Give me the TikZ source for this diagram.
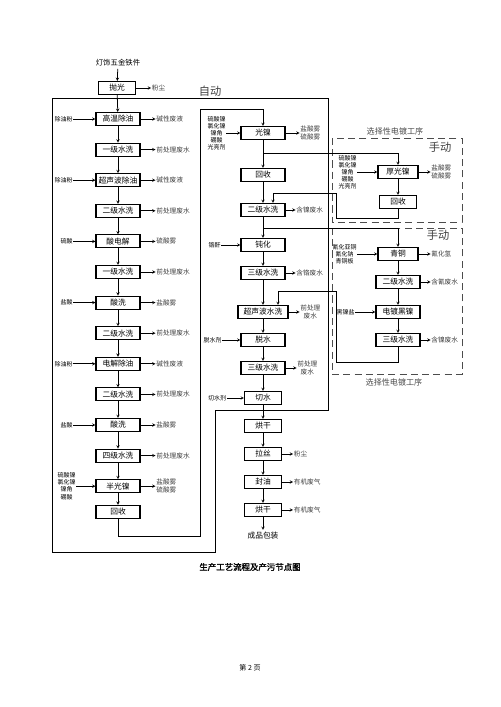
\documentclass[tikz,border=0pt]{standalone}
\usepackage{fontspec}
\setmainfont{Noto Sans CJK SC}[AutoFakeBold=2]
\usetikzlibrary{positioning}

\tikzstyle{arrow} = [line width=1.1pt,->,>=stealth]
\tikzstyle{wire} = [line width=1.1pt]
\tikzstyle{box} = [draw, line width=1.5pt, minimum width=2.2cm, minimum height=0.65cm, inner sep=1pt, font=\fontsize{11}{13}\selectfont]
\tikzstyle{inl} = [align=center, inner sep=1pt, font=\fontsize{8.5}{10}\selectfont]
\tikzstyle{outl} = [align=center, inner sep=1pt, text=black!75, font=\fontsize{9.5}{11}\selectfont]
\tikzstyle{manual} = [dash pattern=on 10pt off 6pt, line width=1.2pt, black!70]
\tikzstyle{modetext} = [text=black!75, font=\fontsize{16}{18}\selectfont]
\tikzstyle{seltext} = [text=black!70, font=\fontsize{11.5}{13}\selectfont]

\begin{document}
\begin{tikzpicture}[x=0.05cm, y=-0.05cm, node distance=1.4cm]
\useasboundingbox (0,0) rectangle (500,707);

\node (src) at (118,63) [font=\fontsize{10.5}{12}\selectfont] {灯饰五金铁件};
\node (a0) at (117,88) [box, minimum width=1.85cm] {抛光};
\node (a1) at (118,119) [box] {高温除油};
\begin{scope}[node distance=1.53cm]
\node (a2) [box, below of=a1] {一级水洗};
\node (a3) [box, below of=a2] {超声波除油};
\node (a4) [box, below of=a3] {二级水洗};
\node (a5) [box, below of=a4] {酸电解};
\node (a6) [box, below of=a5] {一级水洗};
\node (a7) [box, below of=a6] {酸洗};
\node (a8) [box, below of=a7] {二级水洗};
\node (a9) [box, below of=a8] {电解除油};
\node (a10) [box, below of=a9] {二级水洗};
\node (a11) [box, below of=a10] {酸洗};
\node (a12) [box, below of=a11] {四级水洗};
\node (a13) [box, below of=a12] {半光镍};
\node (a14) [box, below of=a13, yshift=0.25cm] {回收};
\end{scope}

\node (a1in) [inl, left=1.1cm of a1] {除油粉};
\node (a3in) [inl, left=1.1cm of a3] {除油粉};
\node (a5in) [inl, left=1.1cm of a5] {硫酸};
\node (a7in) [inl, left=1.1cm of a7] {盐酸};
\node (a9in) [inl, left=1.1cm of a9] {除油粉};
\node (a11in) [inl, left=1.1cm of a11] {盐酸};
\node (a13in) [inl, left=0.95cm of a13] {硫酸镍\\氯化镍\\镍角\\硼酸};

\node (a0out) [outl, right=0.75cm of a0] {粉尘};
\node (a1out) [outl, right=0.75cm of a1] {碱性废液};
\node (a2out) [outl, right=0.75cm of a2] {前处理废水};
\node (a3out) [outl, right=0.75cm of a3] {碱性废液};
\node (a4out) [outl, right=0.75cm of a4] {前处理废水};
\node (a5out) [outl, right=0.75cm of a5] {硫酸雾};
\node (a6out) [outl, right=0.75cm of a6] {前处理废水};
\node (a7out) [outl, right=0.75cm of a7] {盐酸雾};
\node (a8out) [outl, right=0.75cm of a8] {前处理废水};
\node (a9out) [outl, right=0.75cm of a9] {碱性废液};
\node (a10out) [outl, right=0.75cm of a10] {前处理废水};
\node (a11out) [outl, right=0.75cm of a11] {盐酸雾};
\node (a12out) [outl, right=0.75cm of a12] {前处理废水};
\node (a13out) [outl, right=0.75cm of a13] {盐酸雾\\硫酸雾};

\node (b1) at (263,133) [box] {光镍};
\node (b2) [box, below of=b1, yshift=-0.7cm] {回收};
\node (b3) [box, below of=b2, yshift=-0.35cm] {二级水洗};
\node (b4) [box, below of=b3, yshift=-0.35cm] {钝化};
\node (b5) [box, below of=b4] {三级水洗};
\node (b6) [box, below of=b5, yshift=-0.55cm, minimum width=2.5cm] {超声波水洗};
\node (b7) [box, below of=b6] {脱水};
\node (b8) [box, below of=b7] {三级水洗};
\node (b9) [box, below of=b8, yshift=-0.1cm, minimum width=1.85cm] {切水};
\node (b10) [box, below of=b9, minimum width=1.85cm] {烘干};
\node (b11) [box, below of=b10, minimum width=1.85cm] {拉丝};
\node (b12) [box, below of=b11, minimum width=1.85cm] {封油};
\node (b13) [box, below of=b12, minimum width=1.85cm] {烘干};
\node (pack) [below of=b13, yshift=0.1cm, font=\fontsize{11}{13}\selectfont] {成品包装};

\node (b1in) [inl, left=0.7cm of b1] {硫酸镍\\氯化镍\\镍角\\硼酸\\光亮剂};
\node (b4in) [inl, left=0.95cm of b4] {铬酐};
\node (b7in) [inl, left=0.9cm of b7] {脱水剂};
\node (b9in) [inl, left=0.85cm of b9] {切水剂};

\node (b1out) [outl, right=0.7cm of b1] {盐酸雾\\硫酸雾};
\node (b3out) [outl, right=0.5cm of b3] {含镍废水};
\node (b5out) [outl, right=0.5cm of b5] {含铬废水};
\node (b6out) [outl, right=0.55cm of b6] {前处理\\废水};
\node (b8out) [outl, right=0.55cm of b8] {前处理\\废水};
\node (b11out) [outl, right=0.55cm of b11] {粉尘};
\node (b12out) [outl, right=0.55cm of b12] {有机废气};
\node (b13out) [outl, right=0.55cm of b13] {有机废气};

\node (c1) at (398,172) [box, minimum width=2cm] {厚光镍};
\node (c2) [box, below of=c1, yshift=-0.1cm, minimum width=1.85cm] {回收};
\node (c3) at (398,254) [box, minimum width=2cm] {青铜};
\node (c4) [box, below of=c3] {二级水洗};
\node (c5) [box, below of=c4, yshift=-0.1cm] {电镀黑镍};
\node (c6) [box, below of=c5] {三级水洗};

\node (c1in) [inl, left=1cm of c1] {硫酸镍\\氯化镍\\镍角\\硼酸\\光亮剂};
\node (c3in) [inl, left=1cm of c3] {氰化亚铜\\氰化钠\\青铜板};
\node (c5in) [inl, left=1cm of c5] {黑镍盐};

\node (c1out) [outl, right=0.6cm of c1] {盐酸雾\\硫酸雾};
\node (c3out) [outl, right=0.6cm of c3] {氰化氢};
\node (c4out) [outl, right=0.5cm of c4] {含氰废水};
\node (c6out) [outl, right=0.5cm of c6] {含镍废水};

\node (auto) at (210,91) [modetext] {自动};
\node (man1) at (440,147) [modetext] {手动};
\node (man2) at (438,235) [modetext] {手动};
\node (sel1) at (395,131) [seltext] {选择性电镀工序};
\node (sel2) at (394,382) [seltext] {选择性电镀工序};
\node (title) at (250,567) [font=\bfseries\fontsize{12}{14}\selectfont] {生产工艺流程及产污节点图};
\node (page) at (250,668) [font=\fontsize{10}{12}\selectfont] {第 2 页};

\draw [wire] (52,98) -- (328,98) -- (328,410) -- (215,410) -- (215,552) -- (52,552) -- cycle;
\draw [manual] (332,138) rectangle (462,222);
\draw [manual] (332,228) rectangle (462,374);

\draw [arrow] (src) -- (a0);
\draw [arrow] (a0) -- (a1);
\draw [arrow] (a1) -- (a2);
\draw [arrow] (a2) -- (a3);
\draw [arrow] (a3) -- (a4);
\draw [arrow] (a4) -- (a5);
\draw [arrow] (a5) -- (a6);
\draw [arrow] (a6) -- (a7);
\draw [arrow] (a7) -- (a8);
\draw [arrow] (a8) -- (a9);
\draw [arrow] (a9) -- (a10);
\draw [arrow] (a10) -- (a11);
\draw [arrow] (a11) -- (a12);
\draw [arrow] (a12) -- (a13);
\draw [arrow] (a13) -- (a14);

\draw [arrow] (a1in) -- (a1);
\draw [arrow] (a3in) -- (a3);
\draw [arrow] (a5in) -- (a5);
\draw [arrow] (a7in) -- (a7);
\draw [arrow] (a9in) -- (a9);
\draw [arrow] (a11in) -- (a11);
\draw [arrow] (a13in) -- (a13);

\draw [arrow] (a0) -- (a0out);
\draw [arrow] (a1) -- (a1out);
\draw [arrow] (a2) -- (a2out);
\draw [arrow] (a3) -- (a3out);
\draw [arrow] (a4) -- (a4out);
\draw [arrow] (a5) -- (a5out);
\draw [arrow] (a6) -- (a6out);
\draw [arrow] (a7) -- (a7out);
\draw [arrow] (a8) -- (a8out);
\draw [arrow] (a9) -- (a9out);
\draw [arrow] (a10) -- (a10out);
\draw [arrow] (a11) -- (a11out);
\draw [arrow] (a12) -- (a12out);
\draw [arrow] (a13) -- (a13out);

\coordinate (r1) at (200,536);
\coordinate (r2) at (200,109);
\draw [arrow] (a14) |- (r1) -- (r2) -| (b1);

\draw [arrow] (b1) -- (b2);
\draw [arrow] (b2) -- (b3);
\draw [arrow] (b3) -- (b4);
\draw [arrow] (b4) -- (b5);
\draw [arrow] (b5) -- (b6);
\draw [arrow] (b6) -- (b7);
\draw [arrow] (b7) -- (b8);
\draw [arrow] (b8) -- (b9);
\draw [arrow] (b9) -- (b10);
\draw [arrow] (b10) -- (b11);
\draw [arrow] (b11) -- (b12);
\draw [arrow] (b12) -- (b13);
\draw [arrow] (b13) -- (pack);

\draw [arrow] (b1in) -- (b1);
\draw [arrow] (b4in) -- (b4);
\draw [arrow] (b7in) -- (b7);
\draw [arrow] (b9in) -- (b9);

\draw [arrow] (b1) -- (b1out);
\draw [arrow] (b3) -- (b3out);
\draw [arrow] (b5) -- (b5out);
\draw [arrow] (b6) -- (b6out);
\draw [arrow] (b8) -- (b8out);
\draw [arrow] (b11) -- (b11out);
\draw [arrow] (b12) -- (b12out);
\draw [arrow] (b13) -- (b13out);

\coordinate (j1) at (263,153);
\coordinate (j2) at (263,228);
\draw [arrow] (j1) -| (c1);
\draw [arrow] (j2) -| (c3);

\draw [arrow] (c1) -- (c2);
\draw [arrow] (c3) -- (c4);
\draw [arrow] (c4) -- (c5);
\draw [arrow] (c5) -- (c6);

\draw [arrow] (c1in) -- (c1);
\draw [arrow] (c3in) -- (c3);
\draw [arrow] (c5in) -- (c5);

\draw [arrow] (c1) -- (c1out);
\draw [arrow] (c3) -- (c3out);
\draw [arrow] (c4) -- (c4out);
\draw [arrow] (c6) -- (c6out);

\coordinate (r3) at (336,218);
\coordinate (r4) at (336,193);
\draw [arrow] (c2) |- (r3) -- (r4) -| ([xshift=0.5cm]b3.north);
\coordinate (r5) at (336,362);
\coordinate (r6) at (336,291);
\draw [arrow] (c6) |- (r5) -- (r6) -| ([xshift=0.75cm]b6.north);

\end{tikzpicture}
\end{document}
